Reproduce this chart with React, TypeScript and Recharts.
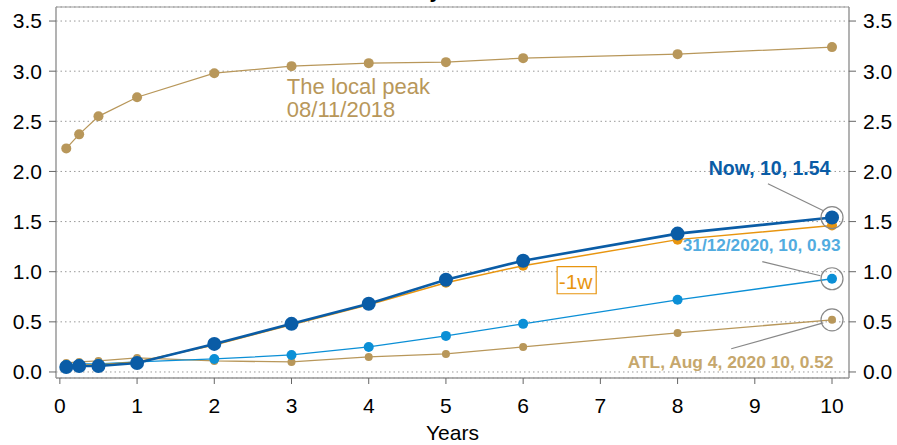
import React from 'react';
import {
  LineChart,
  Line,
  XAxis,
  YAxis,
  CartesianGrid,
  ReferenceDot,
  ReferenceLine,
  ReferenceArea,
} from 'recharts';

const maturities = [0.083, 0.25, 0.5, 1, 2, 3, 4, 5, 6, 8, 10];
const localPeak = [2.23, 2.37, 2.55, 2.74, 2.98, 3.05, 3.08, 3.09, 3.13, 3.17, 3.24];
const now = [0.05, 0.06, 0.06, 0.09, 0.28, 0.48, 0.68, 0.92, 1.11, 1.38, 1.54];
const weekAgo = [0.06, 0.07, 0.07, 0.1, 0.27, 0.47, 0.67, 0.89, 1.06, 1.32, 1.46];
const endOf2020 = [0.07, 0.08, 0.08, 0.1, 0.13, 0.17, 0.25, 0.36, 0.48, 0.72, 0.93];
const atl = [0.09, 0.1, 0.11, 0.14, 0.11, 0.1, 0.15, 0.18, 0.25, 0.39, 0.52];
const xTicks = [0, 1, 2, 3, 4, 5, 6, 7, 8, 9, 10];
const yTicks = [0, 0.5, 1, 1.5, 2, 2.5, 3, 3.5];

const C_NOW = '#0a5ca6';
const C_WEEK = '#e8950f';
const C_2020 = '#0b8fd6';
const C_TAN = '#b8975a';

const data = maturities.map((m, i) => ({
  m,
  peak: localPeak[i],
  now: now[i],
  week: weekAgo[i],
  e2020: endOf2020[i],
  atl: atl[i],
}));

const X_DOMAIN = [-0.05, 10.22];
const Y_DOMAIN = [-0.06, 3.64];

const textShape = (lines: string[], color: string, size: number, weight: string, anchor: string, lh = 22) =>
  (p: any) => (
    <text
      x={p.cx}
      y={p.cy}
      fill={color}
      fontSize={size}
      fontWeight={weight}
      textAnchor={anchor}
      fontFamily="'Liberation Sans', Arial, sans-serif"
    >
      {lines.map((l, i) => (
        <tspan key={i} x={p.cx} dy={i === 0 ? 0 : lh}>
          {l}
        </tspan>
      ))}
    </text>
  );

export default function App() {
  return (
    <div
      style={{
        position: 'absolute',
        left: 0,
        top: 0,
        width: 897,
        height: 445,
        overflow: 'hidden',
        fontFamily: "'Liberation Sans', Arial, sans-serif",
        background: '#fff',
      }}
    >
      <div
        style={{
          position: 'absolute',
          left: 0,
          width: 880,
          top: -19,
          lineHeight: '20px',
          fontSize: 21,
          fontWeight: 'bold',
          textAlign: 'center',
          color: '#000',
        }}
      >
        US Treasury Yield Curve
      </div>
      <LineChart width={897} height={445} data={data} margin={{ top: 7, right: 0, left: 0, bottom: 0 }}>
        <CartesianGrid vertical={false} stroke="#999" strokeDasharray="1.5 3" yAxisId="left" />
        <XAxis
          dataKey="m"
          type="number"
          domain={X_DOMAIN}
          ticks={xTicks}
          allowDataOverflow
          height={67}
          tickSize={6}
          tickMargin={14}
          stroke="#999"
          tick={{ fill: '#000', fontSize: 21 }}
          tickLine={{ stroke: '#666' }}
          label={{ value: 'Years', position: 'insideBottom', offset: 5, fill: '#000', fontSize: 21 }}
        />
        <YAxis
          yAxisId="left"
          orientation="left"
          domain={Y_DOMAIN}
          ticks={yTicks}
          allowDataOverflow
          width={56}
          tickSize={7}
          tickMargin={7}
          stroke="#999"
          tick={{ fill: '#000', fontSize: 21 }}
          tickLine={{ stroke: '#666' }}
          tickFormatter={(v: number) => v.toFixed(1)}
        />
        <YAxis
          yAxisId="right"
          orientation="right"
          domain={Y_DOMAIN}
          ticks={yTicks}
          allowDataOverflow
          width={48}
          tickSize={7}
          tickMargin={7}
          stroke="#999"
          tick={{ fill: '#000', fontSize: 21, textAnchor: 'start' }}
          tickLine={{ stroke: '#666' }}
          tickFormatter={(v: number) => v.toFixed(1)}
        />
        <ReferenceArea
          yAxisId="left"
          x1={X_DOMAIN[0]}
          x2={X_DOMAIN[1]}
          y1={Y_DOMAIN[0]}
          y2={Y_DOMAIN[1]}
          fill="none"
          stroke="#999"
          strokeWidth={1}
        />
        <Line yAxisId="left" dataKey="peak" stroke={C_TAN} strokeWidth={1.3} dot={{ r: 5, fill: C_TAN, stroke: 'none' }} isAnimationActive={false} />
        <Line yAxisId="left" dataKey="atl" stroke={C_TAN} strokeWidth={1.3} dot={{ r: 4, fill: C_TAN, stroke: 'none' }} isAnimationActive={false} />
        <Line yAxisId="left" dataKey="e2020" stroke={C_2020} strokeWidth={1.3} dot={{ r: 5, fill: C_2020, stroke: 'none' }} isAnimationActive={false} />
        <Line yAxisId="left" dataKey="week" stroke={C_WEEK} strokeWidth={1.5} dot={{ r: 5, fill: C_WEEK, stroke: 'none' }} isAnimationActive={false} />
        <Line yAxisId="left" dataKey="now" stroke={C_NOW} strokeWidth={2.6} dot={{ r: 7, fill: C_NOW, stroke: 'none' }} isAnimationActive={false} />

        <ReferenceArea yAxisId="left" x1={6.44} x2={6.946} y1={0.78} y2={1.05} fill="#fff" fillOpacity={1} stroke={C_WEEK} strokeWidth={1.2} />
        <ReferenceDot yAxisId="left" x={6.46} y={0.83} r={0} shape={textShape(['-1w'], C_WEEK, 21, 'normal', 'start')} />

        <ReferenceDot yAxisId="left" x={2.94} y={2.775} r={0} shape={textShape(['The local peak', '08/11/2018'], C_TAN, 22, 'normal', 'start', 23)} />

        <ReferenceLine yAxisId="left" segment={[{ x: 9.17, y: 1.877 }, { x: 9.89, y: 1.608 }]} stroke="#888" strokeWidth={1.2} />
        <ReferenceLine yAxisId="left" segment={[{ x: 9.097, y: 1.1 }, { x: 9.85, y: 0.96 }]} stroke="#888" strokeWidth={1.2} />
        <ReferenceLine yAxisId="left" segment={[{ x: 8.695, y: 0.232 }, { x: 9.887, y: 0.49 }]} stroke="#888" strokeWidth={1.2} />

        <ReferenceDot yAxisId="left" x={10} y={1.54} r={11} fill="none" stroke="#888" strokeWidth={1.2} />
        <ReferenceDot yAxisId="left" x={10} y={0.93} r={11} fill="none" stroke="#888" strokeWidth={1.2} />
        <ReferenceDot yAxisId="left" x={10} y={0.52} r={11} fill="none" stroke="#888" strokeWidth={1.2} />

        <ReferenceDot yAxisId="left" x={9.98} y={1.967} r={0} shape={textShape(['Now, 10, 1.54'], C_NOW, 19.5, 'bold', 'end')} />
        <ReferenceDot yAxisId="left" x={10.11} y={1.21} r={0} shape={textShape(['31/12/2020, 10, 0.93'], '#52ace0', 17.2, 'bold', 'end')} />
        <ReferenceDot yAxisId="left" x={10.02} y={0.043} r={0} shape={textShape(['ATL, Aug 4, 2020 10, 0.52'], '#c6a76c', 17.4, 'bold', 'end')} />
      </LineChart>
    </div>
  );
}
